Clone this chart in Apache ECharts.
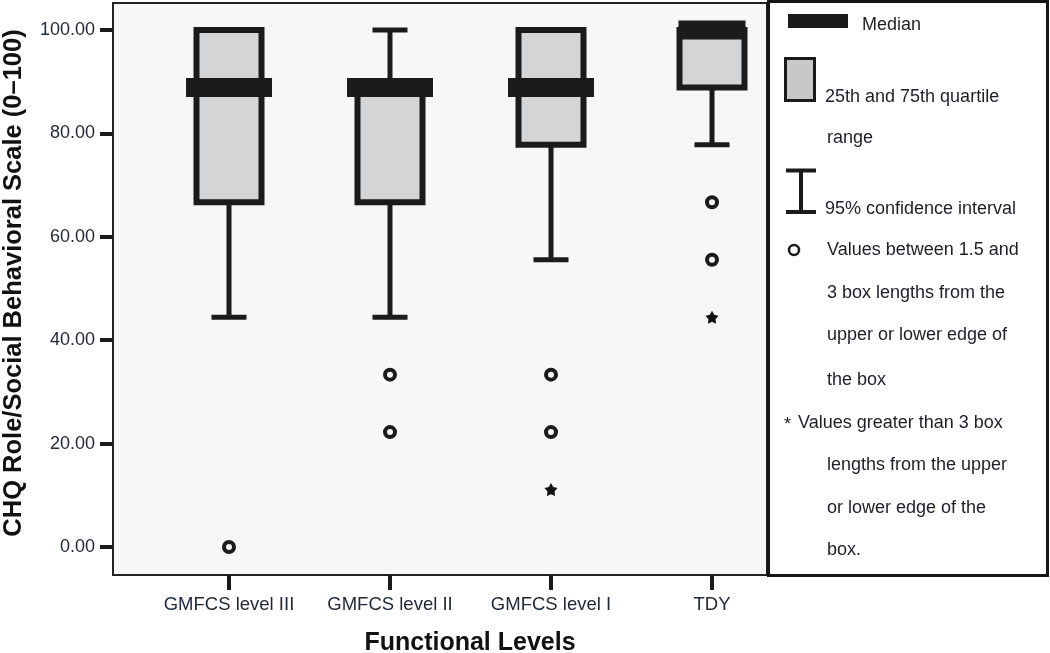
<!DOCTYPE html>
<html>
<head>
<meta charset="utf-8">
<script src="https://cdn.jsdelivr.net/npm/echarts@6/dist/echarts.min.js"></script>
<style>
html,body{margin:0;padding:0;background:#fff;}
#chart{width:1050px;height:653px;}
</style>
</head>
<body>
<div id="chart"></div>
<script>
// ---- data ----
const categories = ['GMFCS level III', 'GMFCS level II', 'GMFCS level I', 'TDY'];
const whiskerLow  = [44.44, 44.44, 55.56, 77.78];
const quartile1   = [66.67, 66.67, 77.78, 88.89];
const medians     = [88.89, 88.89, 88.89, 100.00];
const quartile3   = [100.00, 88.89, 100.00, 100.00];
const whiskerHigh = [100.00, 100.00, 100.00, 100.00];
// outliers: [category index, value]
const mildOutliers    = [[0, 0.00], [1, 33.33], [1, 22.22], [2, 33.33], [2, 22.22], [3, 66.67], [3, 55.56]];
const extremeOutliers = [[2, 11.11], [3, 44.44]];
const yTickValues = [0, 20, 40, 60, 80, 100];

// ---- styles ----
const FONT = "'Liberation Sans', Arial, sans-serif";
const INK = '#1b1b1b';
const LABEL = '#222a3a';
const medianBarWidth = [86, 86, 86, 67];

const boxData = categories.map((c, i) => [i, whiskerLow[i], quartile1[i], medians[i], quartile3[i], whiskerHigh[i]]);

function renderBox(params, api) {
  const i = api.value(0);
  const lo = api.value(1), q1 = api.value(2), md = api.value(3), q3 = api.value(4), hi = api.value(5);
  const y = v => api.coord([i, v])[1];
  const cx = api.coord([i, md])[0];
  const kids = [];
  const lineStyle = { stroke: INK, lineWidth: 5 };
  const capHalf = 17.5;
  if (hi > q3) {
    kids.push({ type: 'line', shape: { x1: cx, y1: y(q3), x2: cx, y2: y(hi) }, style: lineStyle });
    kids.push({ type: 'line', shape: { x1: cx - capHalf, y1: y(hi), x2: cx + capHalf, y2: y(hi) }, style: lineStyle });
  }
  if (lo < q1) {
    kids.push({ type: 'line', shape: { x1: cx, y1: y(q1), x2: cx, y2: y(lo) }, style: lineStyle });
    kids.push({ type: 'line', shape: { x1: cx - capHalf, y1: y(lo), x2: cx + capHalf, y2: y(lo) }, style: lineStyle });
  }
  const bw = 65;
  kids.push({ type: 'rect', shape: { x: cx - bw / 2, y: y(q3), width: bw, height: y(q1) - y(q3) },
              style: { fill: '#d4d5d7', stroke: INK, lineWidth: 6 } });
  const mw = medianBarWidth[i];
  kids.push({ type: 'rect', shape: { x: cx - mw / 2, y: y(md) - 9.5, width: mw, height: 19 },
              style: { fill: INK } });
  return { type: 'group', children: kids };
}

const starPath = 'path://M0,-10 L3.2,-4.4 L9.51,-3.09 L5.2,1.7 L5.88,8.09 L0,5.5 L-5.88,8.09 L-5.2,1.7 L-9.51,-3.09 L-3.2,-4.4 Z';

function legendText(text, x, y) {
  return { type: 'text', x: x, y: y, style: { text: text, font: '18px ' + FONT, fill: '#1e1e26', textVerticalAlign: 'middle' }, z: 100 };
}

const chart = echarts.init(document.getElementById('chart'), null, { renderer: 'canvas' });
chart.setOption({
  animation: false,
  backgroundColor: '#ffffff',
  grid: { left: 113, right: 283, top: 3, bottom: 78, containLabel: false, outerBoundsMode: 'none',
          show: true, backgroundColor: '#f7f7f7', borderColor: '#222', borderWidth: 2 },
  xAxis: {
    type: 'value', min: -0.7205, max: 3.3416,
    axisLine: { show: false, onZero: false },
    splitLine: { show: false },
    axisTick: { show: true, customValues: [0, 1, 2, 3], length: 15, lineStyle: { color: INK, width: 4 } },
    axisLabel: { customValues: [0, 1, 2, 3], formatter: v => categories[Math.round(v)], fontSize: 18.5, fontFamily: FONT, color: LABEL, margin: 20 }
  },
  yAxis: {
    type: 'value', min: -5.42, max: 105.22,
    name: 'CHQ Role/Social Behavioral Scale (0\u2013100)',
    nameLocation: 'middle', nameGap: 86,
    nameTextStyle: { fontSize: 25.5, fontWeight: 'bold', fontFamily: FONT, color: '#111', padding: [0, 0, 0, 12] },
    axisLine: { show: false, onZero: false },
    splitLine: { show: false },
    axisTick: { show: true, customValues: yTickValues, length: 13, lineStyle: { color: INK, width: 4 } },
    axisLabel: { customValues: yTickValues, formatter: v => v.toFixed(2), fontSize: 18, fontFamily: FONT, color: LABEL, margin: 18 }
  },
  series: [
    { type: 'custom', renderItem: renderBox, data: boxData, encode: { x: 0, y: [1, 2, 3, 4, 5] }, z: 3 },
    { type: 'scatter', data: mildOutliers, symbol: 'circle', symbolSize: 10,
      itemStyle: { color: '#f7f7f7', borderColor: INK, borderWidth: 4, opacity: 1 }, z: 4 },
    { type: 'scatter', data: extremeOutliers, symbol: starPath, symbolSize: 13,
      itemStyle: { color: '#111', opacity: 1 }, z: 4 }
  ],
  graphic: [
    { type: 'text', x: 470, y: 643, style: { text: 'Functional Levels', font: 'bold 25px ' + FONT, fill: '#111', textAlign: 'center', textVerticalAlign: 'middle' } },
    { type: 'rect', shape: { x: 768.5, y: 1.5, width: 279, height: 574 }, style: { fill: '#ffffff', stroke: '#151515', lineWidth: 3 }, z: 50 },
    { type: 'rect', shape: { x: 788, y: 14, width: 60, height: 14 }, style: { fill: INK }, z: 100 },
    legendText('Median', 862, 25),
    { type: 'rect', shape: { x: 785.5, y: 58.5, width: 29, height: 42 }, style: { fill: '#c8c8c8', stroke: INK, lineWidth: 3 }, z: 100 },
    legendText('25th and 75th quartile', 825, 97),
    legendText('range', 827, 138),
    { type: 'line', shape: { x1: 786, y1: 170.5, x2: 816, y2: 170.5 }, style: { stroke: INK, lineWidth: 4 }, z: 100 },
    { type: 'line', shape: { x1: 786, y1: 212, x2: 816, y2: 212 }, style: { stroke: INK, lineWidth: 4 }, z: 100 },
    { type: 'line', shape: { x1: 801, y1: 170.5, x2: 801, y2: 212 }, style: { stroke: INK, lineWidth: 4 }, z: 100 },
    legendText('95% confidence interval', 825, 209),
    { type: 'circle', shape: { cx: 794, cy: 250, r: 5 }, style: { fill: '#fff', stroke: INK, lineWidth: 2.5 }, z: 100 },
    legendText('Values between 1.5 and', 827, 250),
    legendText('3 box lengths from the', 827, 293),
    legendText('upper or lower edge of', 827, 335),
    legendText('the box', 827, 380),
    legendText('*', 784, 425),
    legendText('Values greater than 3 box', 798, 423),
    legendText('lengths from the upper', 827, 465),
    legendText('or lower edge of the', 827, 508),
    legendText('box.', 827, 550)
  ]
});
</script>
</body>
</html>
